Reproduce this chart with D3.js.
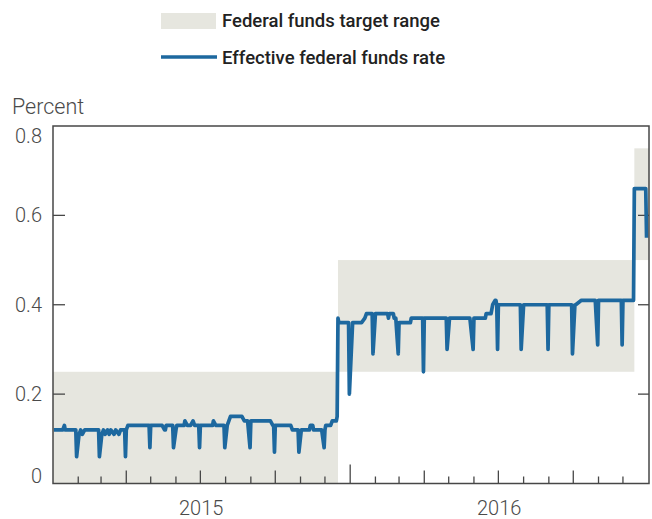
<!DOCTYPE html>
<html>
<head>
<meta charset="utf-8">
<script src="https://cdn.jsdelivr.net/npm/d3@7"></script>
<style>
  html, body { margin: 0; padding: 0; background: #fff; }
  svg { display: block; font-family: Roboto, "Noto Sans", sans-serif; }
</style>
</head>
<body>
<svg id="chart" width="652" height="519"></svg>
<script>
// ---------- DATA ----------
const legendLabels = ["Federal funds target range", "Effective federal funds rate"];
const yAxisTitle = "Percent";
const yTicks = [0, 0.2, 0.4, 0.6, 0.8];
const yTickLabels = ["0", "0.2", "0.4", "0.6", "0.8"];
const yearLabels = ["2015", "2016"];
const yearMid = ["2015-07-02", "2016-07-02"];

// Target range bands
const bandStart = ["2015-01-01", "2015-12-17", "2016-12-15"];
const bandEnd   = ["2015-12-17", "2016-12-15", "2017-01-02"];
const bandLow   = [0.00, 0.25, 0.50];
const bandHigh  = [0.25, 0.50, 0.75];

// Effective federal funds rate (breakpoints of the daily series)
const rateDates = [
  "2015-01-02","2015-01-13","2015-01-15","2015-01-16","2015-01-29","2015-01-30",
  "2015-02-02","2015-02-04","2015-02-06","2015-02-09","2015-02-26","2015-02-27",
  "2015-03-02","2015-03-04","2015-03-06","2015-03-09","2015-03-11","2015-03-13","2015-03-17","2015-03-19","2015-03-23","2015-03-25","2015-03-30","2015-03-31",
  "2015-04-01","2015-04-03","2015-04-29","2015-04-30",
  "2015-05-01","2015-05-15","2015-05-18","2015-05-19","2015-05-20","2015-05-28","2015-05-29",
  "2015-06-01","2015-06-02","2015-06-11","2015-06-12","2015-06-15","2015-06-19","2015-06-22","2015-06-24","2015-06-29","2015-06-30",
  "2015-07-01","2015-07-16","2015-07-17","2015-07-20","2015-07-30","2015-07-31",
  "2015-08-03","2015-08-05","2015-08-07","2015-08-21","2015-08-24","2015-08-28","2015-08-31",
  "2015-09-01","2015-09-25","2015-09-28","2015-09-29","2015-09-30",
  "2015-10-01","2015-10-20","2015-10-22","2015-10-29","2015-10-30",
  "2015-11-02","2015-11-12","2015-11-13","2015-11-16","2015-11-17","2015-11-27","2015-11-30",
  "2015-12-01","2015-12-02","2015-12-08","2015-12-10","2015-12-15","2015-12-16","2015-12-17","2015-12-18","2015-12-30","2015-12-31",
  "2016-01-04","2016-01-15","2016-01-19","2016-01-21","2016-01-28","2016-01-29",
  "2016-02-01","2016-02-16","2016-02-17","2016-02-18","2016-02-23","2016-02-24","2016-02-26","2016-02-29",
  "2016-03-01","2016-03-15","2016-03-16","2016-03-30","2016-03-31",
  "2016-04-01","2016-04-28","2016-04-29",
  "2016-05-02","2016-05-27","2016-05-31",
  "2016-06-01","2016-06-15","2016-06-16","2016-06-22","2016-06-23","2016-06-24","2016-06-27","2016-06-28","2016-06-29","2016-06-30",
  "2016-07-01","2016-07-28","2016-07-29",
  "2016-08-01","2016-08-30","2016-08-31",
  "2016-09-01","2016-09-29","2016-09-30",
  "2016-10-03","2016-10-04","2016-10-11","2016-10-28","2016-10-31",
  "2016-11-01","2016-11-29","2016-11-30",
  "2016-12-01","2016-12-14","2016-12-15","2016-12-29","2016-12-30"
];
const rateValues = [
  0.12,0.12,0.13,0.12,0.12,0.06,
  0.11,0.12,0.11,0.12,0.12,0.06,
  0.11,0.12,0.11,0.12,0.11,0.12,0.11,0.12,0.11,0.12,0.12,0.06,
  0.12,0.13,0.13,0.08,
  0.13,0.13,0.12,0.12,0.13,0.13,0.08,
  0.12,0.13,0.13,0.14,0.13,0.13,0.14,0.13,0.13,0.08,
  0.13,0.13,0.14,0.13,0.13,0.08,
  0.13,0.14,0.15,0.15,0.14,0.14,0.08,
  0.14,0.14,0.13,0.13,0.07,
  0.13,0.13,0.12,0.12,0.07,
  0.12,0.12,0.13,0.13,0.12,0.12,0.08,
  0.12,0.13,0.13,0.14,0.14,0.15,0.37,0.36,0.36,0.20,
  0.36,0.36,0.37,0.38,0.38,0.29,
  0.38,0.38,0.37,0.38,0.38,0.37,0.37,0.29,
  0.36,0.36,0.37,0.37,0.25,
  0.37,0.37,0.30,
  0.37,0.37,0.30,
  0.37,0.37,0.38,0.38,0.39,0.40,0.41,0.41,0.40,0.30,
  0.40,0.40,0.30,
  0.40,0.40,0.30,
  0.40,0.40,0.29,
  0.40,0.40,0.41,0.41,0.31,
  0.41,0.41,0.31,
  0.41,0.41,0.66,0.66,0.55
];

// ---------- LAYOUT ----------
const parse = d3.timeParse("%Y-%m-%d");
const L = 53, R = 649, T = 126, B = 483.5;
const svg = d3.select("#chart");

const x = d3.scaleTime()
  .domain([parse("2015-01-01"), parse("2017-01-02")])
  .range([L, R]);
const y = d3.scaleLinear().domain([0, 0.8]).range([B, T]);

const bandColor = "#e6e6df";
const lineColor = "#1d689f";
const axisColor = "#474747";
const textColor = "#4a4a4a";

// Legend
const lg = svg.append("g");
lg.append("rect").attr("x", 161).attr("y", 13).attr("width", 55).attr("height", 16).attr("fill", bandColor);
lg.append("text").attr("x", 222).attr("y", 27).text(legendLabels[0])
  .attr("font-size", 18.5).attr("font-weight", 500).attr("fill", "#222");
lg.append("line").attr("x1", 161).attr("x2", 217).attr("y1", 57).attr("y2", 57)
  .attr("stroke", lineColor).attr("stroke-width", 3.5);
lg.append("text").attr("x", 222).attr("y", 64).text(legendLabels[1])
  .attr("font-size", 18.5).attr("font-weight", 500).attr("fill", "#222");

// Axis title
svg.append("text").attr("x", 12).attr("y", 114).text(yAxisTitle)
  .attr("font-size", 21.5).attr("font-weight", 300).attr("fill", textColor);

// Bands
const bands = bandStart.map((s, i) => ({s: parse(s), e: parse(bandEnd[i]), lo: bandLow[i], hi: bandHigh[i]}));
svg.append("g").selectAll("rect").data(bands).join("rect")
  .attr("x", d => x(d.s)).attr("width", d => x(d.e) - x(d.s))
  .attr("y", d => y(d.hi)).attr("height", d => y(d.lo) - y(d.hi))
  .attr("fill", bandColor);

// Y ticks (left inside and right inside)
const inner = yTicks.filter(v => v > 0 && v < 0.8);
const yt = svg.append("g").attr("stroke", axisColor).attr("stroke-width", 1.3);
yt.selectAll(".l").data(inner).join("line").attr("class", "l")
  .attr("x1", L).attr("x2", L + 12).attr("y1", d => y(d)).attr("y2", d => y(d));
yt.selectAll(".r").data(inner).join("line").attr("class", "r")
  .attr("x1", R - 11).attr("x2", R).attr("y1", d => y(d)).attr("y2", d => y(d));

// Y labels
svg.append("g").selectAll("text").data(yTicks).join("text")
  .attr("x", 42)
  .attr("y", d => Math.min(Math.max(y(d), T + 10), B - 7.5))
  .attr("dy", "0.35em")
  .attr("text-anchor", "end")
  .attr("font-size", 20).attr("font-weight", 300).attr("fill", textColor)
  .text((d, i) => yTickLabels[i]);

// X ticks (monthly, quarterly, yearly)
const months = d3.timeMonth.range(parse("2015-02-01"), parse("2017-01-01"));
svg.append("g").attr("stroke", axisColor).attr("stroke-width", 1.3)
  .selectAll("line").data(months).join("line")
  .attr("x1", d => x(d)).attr("x2", d => x(d))
  .attr("y1", B)
  .attr("y2", d => B - (d.getMonth() === 0 ? 19 : (d.getMonth() % 3 === 0 ? 13 : 7)));

// Year labels
svg.append("g").selectAll("text").data(yearLabels).join("text")
  .attr("x", (d, i) => x(parse(yearMid[i])))
  .attr("y", 515)
  .attr("text-anchor", "middle")
  .attr("font-size", 20).attr("font-weight", 300).attr("fill", textColor)
  .text(d => d);

// Line
const pts = rateDates.map((d, i) => ({date: parse(d), v: rateValues[i]}));
svg.append("path").datum(pts)
  .attr("fill", "none").attr("stroke", lineColor).attr("stroke-width", 3.7)
  .attr("stroke-linejoin", "round")
  .attr("d", d3.line().x(d => x(d.date)).y(d => y(d.v)));

// Frame
svg.append("rect").attr("x", L).attr("y", T).attr("width", R - L).attr("height", B - T)
  .attr("fill", "none").attr("stroke", axisColor).attr("stroke-width", 1.5);
</script>
</body>
</html>
